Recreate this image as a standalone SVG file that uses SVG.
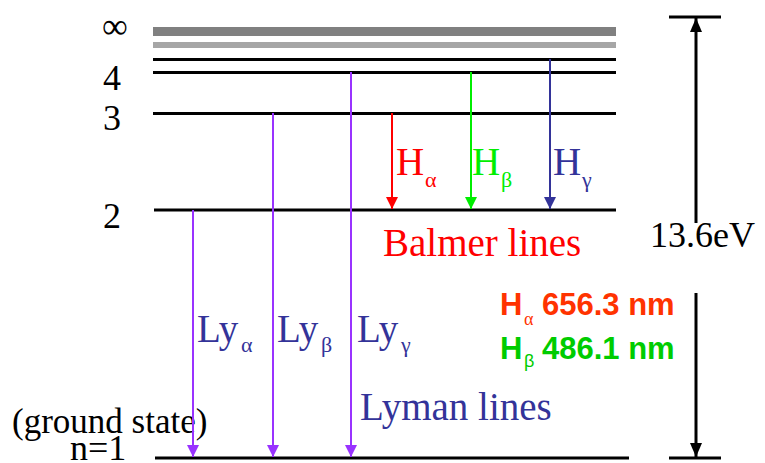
<svg xmlns="http://www.w3.org/2000/svg" width="765" height="463" viewBox="0 0 765 463">
<style>
.serif{font-family:"Liberation Serif","Times New Roman",serif}
.lvl{font-size:36px;fill:#000}
.big{font-size:39px}
.sub{font-size:22px}
.lev{stroke:#000;stroke-width:3;fill:none}
.sans{font-family:"Liberation Sans",Arial,sans-serif;font-weight:bold;font-size:31px}
.red{fill:#ff0000}.grn{fill:#00ee00}.blu{fill:#333399}
</style>
<defs>
<marker id="mPur" markerUnits="userSpaceOnUse" markerWidth="12" markerHeight="12" refX="12" refY="6" orient="auto"><path d="M0,0 L12,6 L0,12 z" fill="#9933ff"/></marker>
<marker id="mRed" markerUnits="userSpaceOnUse" markerWidth="12" markerHeight="12" refX="12" refY="6" orient="auto"><path d="M0,0 L12,6 L0,12 z" fill="#ff0000"/></marker>
<marker id="mGrn" markerUnits="userSpaceOnUse" markerWidth="12" markerHeight="12" refX="12" refY="6" orient="auto"><path d="M0,0 L12,6 L0,12 z" fill="#00ee00"/></marker>
<marker id="mBlu" markerUnits="userSpaceOnUse" markerWidth="12" markerHeight="12" refX="12" refY="6" orient="auto"><path d="M0,0 L12,6 L0,12 z" fill="#333399"/></marker>
<marker id="mBlk" markerUnits="userSpaceOnUse" markerWidth="14" markerHeight="12" refX="14" refY="6" orient="auto"><path d="M0,0 L14,6 L0,12 z" fill="#000"/></marker>
</defs>

<g id="level-inf">
<rect x="153" y="27" width="463" height="9" fill="#808080"/>
<rect x="153" y="42" width="463" height="6" fill="#a6a6a6"/>
<text class="serif lvl" x="102" y="38">∞</text>
</g>
<g id="level-5">
<line class="lev" x1="153" y1="59.5" x2="616" y2="59.5" stroke-width="2.5"/>
</g>
<g id="level-4">
<line class="lev" x1="153" y1="72.5" x2="616" y2="72.5" stroke-width="2.5"/>
<text class="serif lvl" x="103" y="90">4</text>
</g>
<g id="level-3">
<line class="lev" x1="153" y1="113.5" x2="616" y2="113.5"/>
<text class="serif lvl" x="103" y="130">3</text>
</g>
<g id="level-2">
<line class="lev" x1="154" y1="210" x2="616" y2="210"/>
<text class="serif lvl" x="103" y="228">2</text>
</g>
<g id="level-1">
<line class="lev" x1="155" y1="458" x2="629" y2="458" stroke-width="3.5"/>
<text class="serif" font-size="35" x="12" y="433">(ground state)</text>
<text class="serif lvl" x="70" y="460">n=1</text>
</g>

<g id="connectors" fill="none" stroke-width="2">
<line x1="193" y1="210" x2="193" y2="457" stroke="#9933ff" marker-end="url(#mPur)"/>
<line x1="273" y1="113" x2="273" y2="457" stroke="#9933ff" marker-end="url(#mPur)"/>
<line x1="351" y1="72" x2="351" y2="457" stroke="#9933ff" marker-end="url(#mPur)"/>
<line x1="392" y1="113" x2="392" y2="209" stroke="#ff0000" marker-end="url(#mRed)"/>
<line x1="471" y1="72" x2="471" y2="209" stroke="#00ee00" marker-end="url(#mGrn)"/>
<line x1="550" y1="59" x2="550" y2="209" stroke="#333399" marker-end="url(#mBlu)"/>
<line x1="696" y1="223" x2="696" y2="18" stroke="#000" stroke-width="3" marker-end="url(#mBlk)"/>
<line x1="696" y1="293" x2="696" y2="457" stroke="#000" stroke-width="3" marker-end="url(#mBlk)"/>
</g>

<g id="scale-bar">
<line x1="669" y1="17" x2="721" y2="17" stroke="#000" stroke-width="3"/>
<line x1="669" y1="458" x2="721" y2="458" stroke="#000" stroke-width="3"/>
<text class="serif lvl" x="650" y="247">13.6eV</text>
</g>

<g id="balmer-labels" class="serif">
<text class="big red" x="396" y="175">H</text><text class="sub red" x="425" y="187">α</text>
<text class="big grn" x="472" y="175">H</text><text class="sub grn" x="501" y="187">β</text>
<text class="big blu" x="553" y="175">H</text><text class="sub blu" x="582" y="187">γ</text>
<text class="big red" x="383" y="256">Balmer lines</text>
</g>

<g id="lyman-labels" class="serif">
<text class="big blu" x="197" y="342">Ly</text><text class="sub blu" x="241" y="352">α</text>
<text class="big blu" x="277" y="342">Ly</text><text class="sub blu" x="321" y="352">β</text>
<text class="big blu" x="357" y="342">Ly</text><text class="sub blu" x="401" y="352">γ</text>
<text class="big blu" x="360" y="420">Lyman lines</text>
</g>

<g id="wavelengths">
<text class="sans" x="500" y="315" fill="#ff3300">H</text>
<text class="serif" x="524" y="325" font-size="18" fill="#ff3300">α</text>
<text class="sans" x="542" y="315" fill="#ff3300">656.3 nm</text>
<text class="sans" x="500" y="359" fill="#00cc00">H</text>
<text x="524" y="367" font-family="Liberation Sans,Arial,sans-serif" font-size="18" fill="#00cc00">β</text>
<text class="sans" x="542" y="359" fill="#00cc00">486.1 nm</text>
</g>
</svg>
